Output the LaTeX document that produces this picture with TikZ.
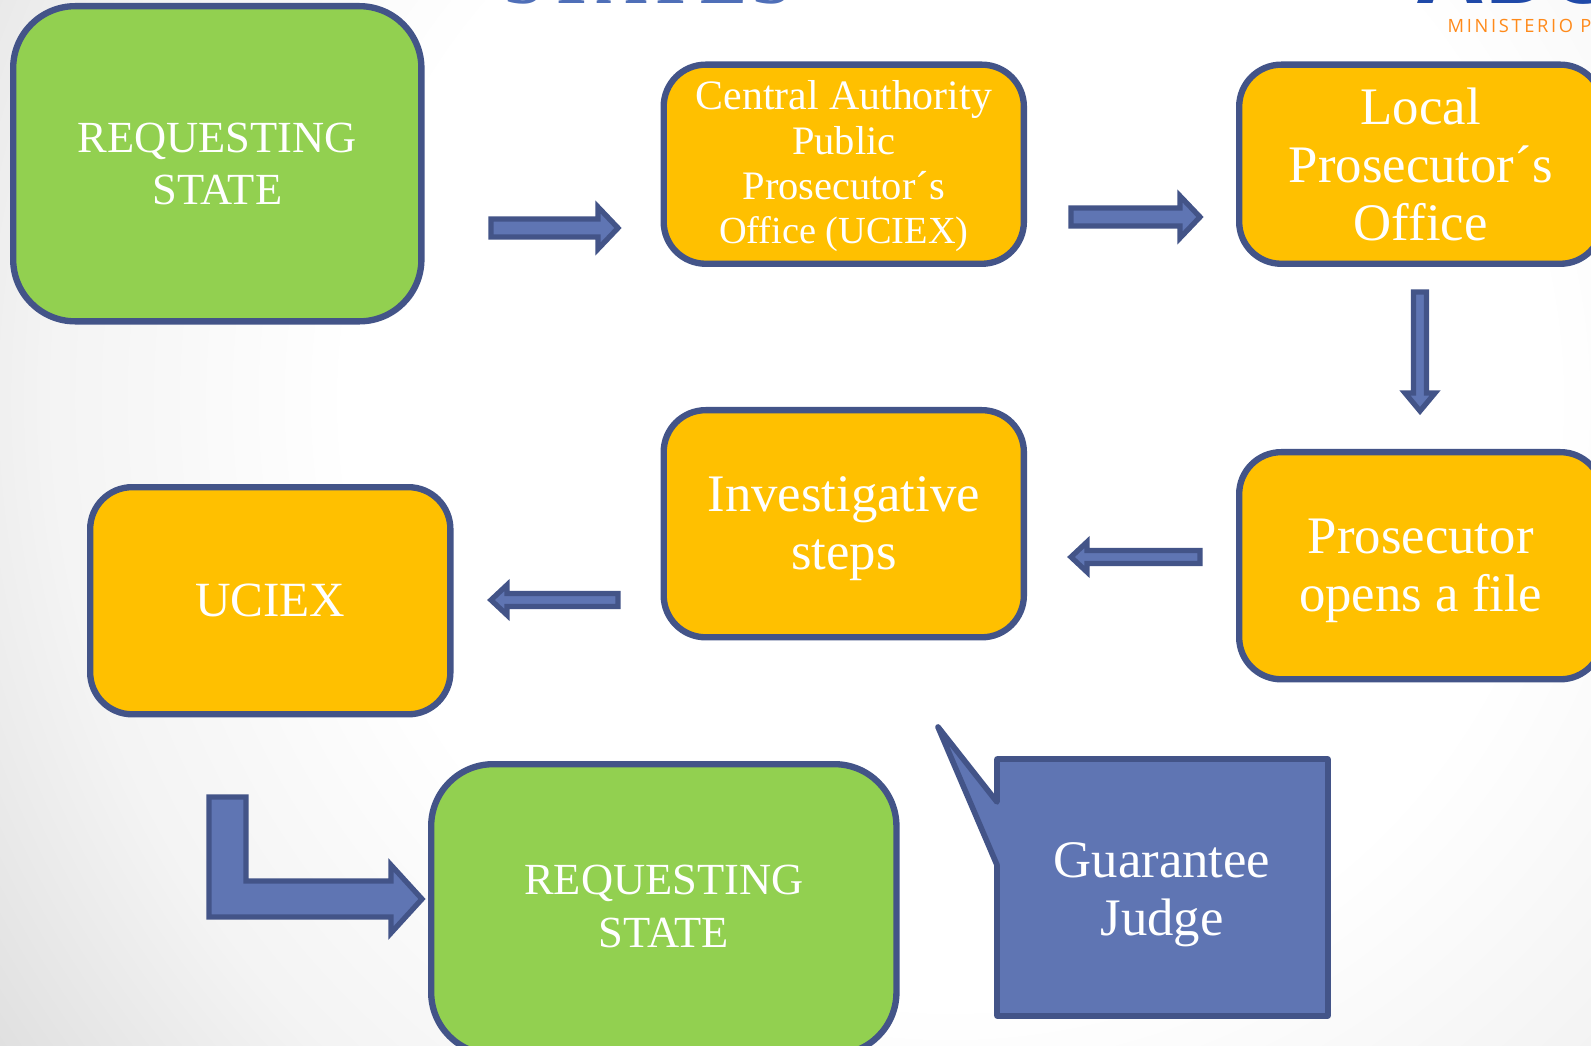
\documentclass[tikz,border=0pt]{standalone}
\usepackage{fontspec}
\setmainfont{Liberation Serif}
\newfontfamily\logofont[LetterSpace=14.5]{Open Sans}
\newfontfamily\markfont{Open Sans}
\newfontfamily\titlefont[LetterSpace=8]{Liberation Serif}
\usetikzlibrary{calc, positioning}
\definecolor{edgeblue}{HTML}{435488}
\definecolor{fillblue}{HTML}{5F75B3}
\definecolor{boxorange}{HTML}{FFC000}
\definecolor{boxgreen}{HTML}{92D050}
\definecolor{titleblue}{HTML}{4F6FB8}
\definecolor{markblue}{HTML}{1F49A8}
\definecolor{logoorange}{HTML}{FF8A1A}
\definecolor{bgone}{gray}{0.955}
\definecolor{bgtwo}{gray}{0.875}
\pgfdeclareradialshading{pagebg}{\pgfpointorigin}{color(0bp)=(white); color(12bp)=(white); color(18bp)=(bgone); color(23.2bp)=(bgtwo); color(50bp)=(bgtwo)}
\newcommand{\topgap}[1]{\rule{0pt}{#1}}
\tikzset{
    box/.style={draw=edgeblue, line width=1.8pt, text=white, align=center, inner sep=0pt, anchor=north west},
    orangebox/.style={box, fill=boxorange, rounded corners=0.42cm},
    greenbox/.style={box, fill=boxgreen, rounded corners=0.62cm},
    flow/.style={draw=edgeblue, fill=fillblue, line width=1.5pt},
    flowright/.style={flow, to path={
        -- ($(\tikztostart)+(0,-9)$) -- ($(\tikztotarget)+(-20,-9)$) -- ($(\tikztotarget)+(-20,-21)$)
        -- (\tikztotarget) -- ($(\tikztotarget)+(-20,21)$) -- ($(\tikztotarget)+(-20,9)$)
        -- ($(\tikztostart)+(0,9)$) -- cycle}},
    flowleft/.style={flow, to path={
        -- ($(\tikztostart)+(0,-6.5)$) -- ($(\tikztotarget)+(16,-6.5)$) -- ($(\tikztotarget)+(16,-15)$)
        -- (\tikztotarget) -- ($(\tikztotarget)+(16,15)$) -- ($(\tikztotarget)+(16,6.5)$)
        -- ($(\tikztostart)+(0,6.5)$) -- cycle}},
    flowdown/.style={flow, to path={
        -- ($(\tikztostart)+(-6.5,0)$) -- ($(\tikztotarget)+(-6.5,-18)$) -- ($(\tikztotarget)+(-15,-18)$)
        -- (\tikztotarget) -- ($(\tikztotarget)+(15,-18)$) -- ($(\tikztotarget)+(6.5,-18)$)
        -- ($(\tikztostart)+(6.5,0)$) -- cycle}}
}

\begin{document}
\begin{tikzpicture}[x=0.01cm, y=-0.01cm]
    \useasboundingbox (0,0) rectangle (1591,1046);
    \clip (0,0) rectangle (1591,1046);

    % Background
    \shade[shading=pagebg] (950,400) circle (12.5cm);

    % Title and logo, cut by the page
    \node[text=titleblue, font=\titlefont\bfseries\fontsize{20}{20}\selectfont, anchor=base, inner sep=0pt] (title) at (648,4) {STATES};
    \node[text=logoorange, font=\logofont\fontsize{5.2}{6}\selectfont, anchor=base west, inner sep=0pt] (logotext) at (1447,33) {MINISTERIO P};
    \node[text=markblue, font=\markfont\bfseries\fontsize{27}{27}\selectfont, anchor=base west, inner sep=0pt] (logomark) at (1417,4) {ABC};

    % First row
    \node[greenbox, minimum width=4.08cm, minimum height=3.15cm, font=\fontsize{12.65}{14.8}\selectfont] (reqone) at (10,3) {REQUESTING\\STATE};
    \node[orangebox, minimum width=3.6cm, minimum height=1.99cm, font=\fontsize{11.5}{12.7}\selectfont] (central) at (660.5,61.5) {\topgap{9.5pt}\fontsize{11.9}{12.7}\selectfont Central Authority\\Public\\Prosecutor´s\\\fontsize{10.9}{12.7}\selectfont Office (UCIEX)};
    \node[orangebox, minimum width=3.63cm, minimum height=1.99cm, font=\fontsize{15}{16.5}\selectfont] (local) at (1236,61.5) {Local\\Prosecutor´s\\Office};

    % Second row
    \node[orangebox, minimum width=3.63cm, minimum height=2.27cm, font=\fontsize{15}{16.5}\selectfont] (file) at (1236,449) {\topgap{13pt}Prosecutor\\opens a file};
    \node[orangebox, minimum width=3.6cm, minimum height=2.27cm, font=\fontsize{15}{16.5}\selectfont] (steps) at (660.5,407) {\topgap{13pt}Investigative\\steps};
    \node[orangebox, minimum width=3.6cm, minimum height=2.27cm, font=\fontsize{14}{16.5}\selectfont] (uciex) at (87,484) {UCIEX};

    % Last row
    \node[greenbox, minimum width=4.65cm, minimum height=2.9cm, font=\fontsize{12.65}{14.8}\selectfont] (reqtwo) at (428,761) {REQUESTING\\STATE\rule[-1.7pt]{0pt}{0pt}};

    % Callout
    \draw[draw=edgeblue, fill=fillblue, line width=1.6pt, line join=round] (938,727) -- (997,802) -- (997,759) -- (1328,759) -- (1328,1016) -- (997,1016) -- (997,865) -- cycle;
    \node[text=white, align=center, font=\fontsize{15}{16.5}\selectfont] (judge) at (1162,895) {Guarantee\\Judge};

    % Arrows
    \coordinate (a) at (491,228);
    \coordinate (b) at (618,228);
    \coordinate (c) at (1071,217);
    \coordinate (d) at (1200,217);
    \coordinate (e) at (1420,292);
    \coordinate (f) at (1420,411);
    \coordinate (g) at (1200,557);
    \coordinate (h) at (1071,557);
    \coordinate (i) at (618,600);
    \coordinate (j) at (491,600);
    \draw[flowright] (a) to (b);
    \draw[flowright] (c) to (d);
    \draw[flowdown] (e) to (f);
    \draw[flowleft] (g) to (h);
    \draw[flowleft] (i) to (j);

    % Elbow arrow
    \draw[flow] (209,797) -- (246,797) -- (246,881) -- (391,881) -- (391,865) -- (422,899) -- (391,933) -- (391,917) -- (209,917) -- cycle;
\end{tikzpicture}
\end{document}
